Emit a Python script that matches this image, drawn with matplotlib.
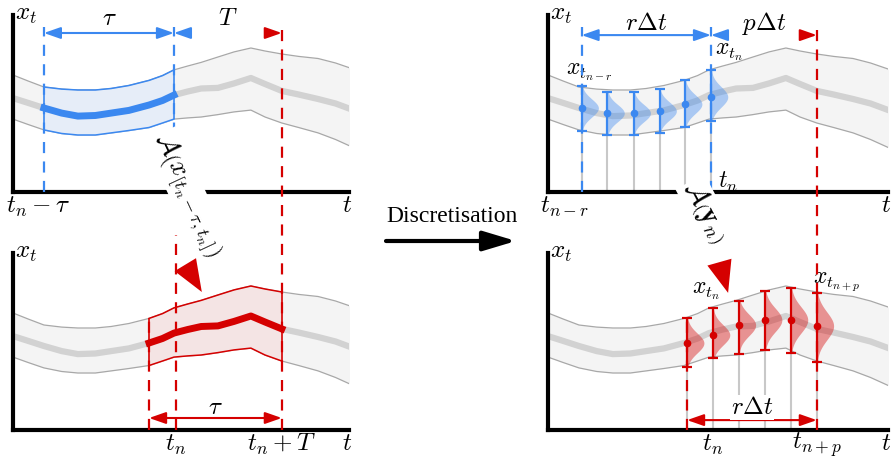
import numpy as np
import matplotlib.pyplot as plt

plt.rcParams['mathtext.fontset'] = 'cm'
plt.rcParams['lines.scale_dashes'] = False

# the underlying signal (t in time units, x in arbitrary units)
t = [0, 0.45, 0.92, 1.45, 1.93, 2.45, 2.92, 3.45, 4.05, 4.45, 4.79, 5.2, 5.6, 6.1, 6.58, 7.08, 7.5, 8.0, 8.5, 9.08, 9.6, 10.25]
mean = [3.13, 2.97, 2.8, 2.63, 2.53, 2.55, 2.63, 2.72, 2.9, 3.05, 3.23, 3.35, 3.45, 3.47, 3.62, 3.8, 3.6, 3.37, 3.25, 3.1, 2.95, 2.68]
upper = [3.9, 3.7, 3.5, 3.43, 3.4, 3.4, 3.45, 3.55, 3.72, 3.88, 4.07, 4.2, 4.32, 4.5, 4.67, 4.8, 4.7, 4.6, 4.52, 4.45, 4.3, 4.05]
lower = [2.43, 2.25, 2.07, 1.95, 1.9, 1.9, 1.97, 2.05, 2.15, 2.3, 2.43, 2.47, 2.5, 2.58, 2.67, 2.73, 2.5, 2.3, 2.15, 1.97, 1.75, 1.42]

# continuous windows
hist_start, hist_end = 0.92, 4.79
pred_start, t_now, pred_end = 4.05, 4.85, 8.0

# discretised samples
obs_t = [1.0, 1.77, 2.55, 3.32, 4.08, 4.85]
obs_mid = [2.8, 2.63, 2.63, 2.7, 2.93, 3.17]
obs_top = [3.53, 3.33, 3.33, 3.43, 3.73, 4.07]
obs_bot = [2.03, 1.9, 1.9, 1.97, 2.17, 2.37]

fc_t = [4.14, 4.91, 5.68, 6.46, 7.23, 8.0]
fc_mid = [2.9, 3.17, 3.5, 3.67, 3.67, 3.47]
fc_top = [3.73, 4.07, 4.3, 4.63, 4.73, 4.57]
fc_bot = [2.1, 2.4, 2.53, 2.67, 2.57, 2.27]

BLUE = '#3b88f0'
RED = '#d50000'
W, H = 893, 458
PX = 33.6   # pixels per time unit
PY = 30.0   # pixels per x unit
DASH = (8, 6)
FS = 18

fig = plt.figure(figsize=(W / 100, H / 100), dpi=100)


def make_ax(x0, yaxis, w):
    ax = fig.add_axes([x0 / W, (H - yaxis) / H, w / W, 177 / H])
    ax.set_xlim(0, w / PX)
    ax.set_ylim(0, 177 / PY)
    for s in ['top', 'right']:
        ax.spines[s].set_visible(False)
    for s in ['left', 'bottom']:
        ax.spines[s].set_linewidth(3)
    ax.set_xticks([])
    ax.set_yticks([])
    ax.patch.set_alpha(0)
    ax.text(0.05, 5.92, '$x_t$', fontsize=FS, ha='left', va='center')
    ax.text(w / PX - 0.06, -0.45, '$t$', fontsize=FS, ha='center', va='center')
    draw_band(ax)
    return ax


def draw_band(ax):
    ax.fill_between(t, lower, upper, color='#f4f4f4', lw=0, zorder=1)
    ax.plot(t, upper, color='#a8a8a8', lw=0.9, zorder=1.5)
    ax.plot(t, lower, color='#a8a8a8', lw=0.9, zorder=1.5)
    ax.plot(t, mean, color='#d2d2d2', lw=4.5, zorder=2)


def draw_window(ax, t0, t1, color, fill):
    idx = [i for i, v in enumerate(t) if t0 <= v <= t1]
    tt = [t[i] for i in idx]
    lo = [lower[i] for i in idx]
    hi = [upper[i] for i in idx]
    mu = [mean[i] for i in idx]
    ax.fill_between(tt, lo, hi, color=fill, lw=0, zorder=2.2)
    ax.plot(tt, hi, color=color, lw=1.1, zorder=3)
    ax.plot(tt, lo, color=color, lw=1.1, zorder=3)
    ax.plot(tt, mu, color=color, lw=5, zorder=3)
    ax.vlines([tt[0], tt[-1]], [lo[0], lo[-1]], [hi[0], hi[-1]], color=color, lw=1.2, zorder=3)


def dline(ax, x, y0, y1, color):
    ax.plot([x, x], [y0, y1], color=color, lw=1.6, dashes=DASH, clip_on=False, zorder=4)


def arrow(ax, xy, xytext, color, style, lw=1.5):
    ax.annotate('', xy=xy, xytext=xytext,
                arrowprops=dict(arrowstyle=style, color=color, lw=lw, mutation_scale=10,
                                shrinkA=0, shrinkB=0),
                annotation_clip=False, zorder=6)


def samples(ax, ts, mid, top, bot, color):
    ax.vlines(ts, 0, bot, color='#c8c8c8', lw=1.5, zorder=2.5)
    for ti, m, lo, hi in zip(ts, mid, top, bot):
        yy = np.linspace(hi, lo, 60)
        s = (lo - hi) / 5
        ax.fill_betweenx(yy, ti, ti + 0.5 * np.exp(-0.5 * ((yy - m) / s) ** 2),
                         color=color, alpha=0.4, lw=0, zorder=3)
    err = [np.subtract(mid, bot), np.subtract(top, mid)]
    ax.errorbar(ts, mid, yerr=err, fmt='o', color=color, ms=4.5, lw=1.6,
                capsize=3.5, capthick=1.6, zorder=5)


HEAD = '-|>,head_length=1.0,head_width=0.35'
DHEAD = '<|-|>,head_length=1.0,head_width=0.35'
BIG = '-|>,head_length=2.3,head_width=0.9'

# ---- top left: continuous history
ax1 = make_ax(13, 192, 336)
draw_window(ax1, hist_start, hist_end, BLUE, '#e6edf8')
dline(ax1, hist_start, 0, 5.5, BLUE)
dline(ax1, hist_end, 0, 5.5, BLUE)
arrow(ax1, (hist_end, 5.3), (hist_start, 5.3), BLUE, DHEAD)
ax1.text((hist_start + hist_end) / 2, 5.8, r'$\tau$', fontsize=FS, ha='center', va='center')
arrow(ax1, (hist_end, 5.3), (hist_end + 0.43, 5.3), BLUE, HEAD)
arrow(ax1, (pred_end, 5.3), (pred_end - 0.4, 5.3), RED, HEAD)
ax1.text(6.4, 5.8, '$T$', fontsize=FS, ha='center', va='center')
ax1.text(0.75, -0.48, r'$t_n-\tau$', fontsize=FS, ha='center', va='center')

# ---- bottom left: continuous forecast
ax2 = make_ax(13, 430, 336)
draw_window(ax2, pred_start, pred_end, RED, '#f4e4e4')
dline(ax2, pred_start, 0, 3.72, RED)
dline(ax2, t_now, 0, 6.5, RED)
dline(ax2, pred_end, 0, 13.4, RED)
arrow(ax2, (pred_end, 0.4), (pred_start, 0.4), RED, DHEAD)
ax2.text((pred_start + pred_end) / 2, 0.78, r'$\tau$', fontsize=FS, ha='center', va='center')
ax2.text(t_now, -0.48, '$t_n$', fontsize=FS, ha='center', va='center')
ax2.text(pred_end, -0.48, '$t_n+T$', fontsize=FS, ha='center', va='center')
arrow(ax2, (5.62, 4.6), (5.0, 5.75), RED, BIG, lw=0)

# ---- top right: discretised history
ax3 = make_ax(548, 192, 340)
samples(ax3, obs_t, obs_mid, obs_top, obs_bot, BLUE)
dline(ax3, obs_t[0], 0, 5.5, BLUE)
dline(ax3, obs_t[-1], 0, 5.5, BLUE)
arrow(ax3, (obs_t[-1], 5.23), (obs_t[0], 5.23), BLUE, DHEAD)
ax3.text((obs_t[0] + obs_t[-1]) / 2, 5.62, r'$r\Delta t$', fontsize=FS, ha='center', va='center')
arrow(ax3, (obs_t[-1], 5.23), (obs_t[-1] + 0.42, 5.23), BLUE, HEAD)
arrow(ax3, (pred_end, 5.23), (pred_end - 0.42, 5.23), RED, HEAD)
ax3.text(6.45, 5.62, r'$p\Delta t$', fontsize=FS, ha='center', va='center')
ax3.text(1.22, 4.05, r'$x_{t_{n-r}}$', fontsize=17, ha='center', va='center')
ax3.text(5.4, 4.7, r'$x_{t_n}$', fontsize=17, ha='center', va='center')
ax3.text(5.35, 0.33, r'$t_n$', fontsize=17, ha='center', va='center')
ax3.text(0.5, -0.48, r'$t_{n-r}$', fontsize=FS, ha='center', va='center')

# ---- bottom right: discretised forecast
ax4 = make_ax(548, 430, 340)
samples(ax4, fc_t, fc_mid, fc_top, fc_bot, RED)
dline(ax4, fc_t[0], 0, fc_top[0], RED)
dline(ax4, fc_t[-1], 0, 13.4, RED)
arrow(ax4, (fc_t[-1], 0.33), (fc_t[0], 0.33), RED, DHEAD)
ax4.text((fc_t[0] + fc_t[-1]) / 2, 0.75, r'$r\Delta t$', fontsize=FS, ha='center', va='center',
         bbox=dict(fc='white', ec='none', pad=0.5), zorder=6)
ax4.text(4.7, 4.65, r'$x_{t_n}$', fontsize=17, ha='center', va='center')
ax4.text(8.6, 4.93, r'$x_{t_{n+p}}$', fontsize=17, ha='center', va='center')
ax4.text(fc_t[1], -0.48, '$t_n$', fontsize=FS, ha='center', va='center')
ax4.text(fc_t[-1], -0.48, '$t_{n+p}$', fontsize=FS, ha='center', va='center')
arrow(ax4, (5.36, 4.57), (5.05, 5.8), RED, BIG, lw=0)

# ---- middle arrow and rotated operator labels
fig.text(452 / W, 1 - 216 / H, 'Discretisation', fontsize=17, family='Liberation Serif',
         ha='center', va='center')
ax1.annotate('', xy=(516 / W, 1 - 241 / H), xytext=(386 / W, 1 - 241 / H),
             xycoords='figure fraction', textcoords='figure fraction',
             arrowprops=dict(arrowstyle='-|>,head_length=2.0,head_width=0.6', color='black',
                             lw=3, mutation_scale=10, shrinkA=0, shrinkB=0),
             annotation_clip=False)
fig.text(188 / W, 1 - 195 / H, r'$\mathcal{A}\left(x_{[t_n-\tau,t_n]}\right)$', fontsize=19,
         rotation=-65, rotation_mode='anchor', ha='center', va='center',
         bbox=dict(fc='white', ec='none', pad=1))
fig.text(706 / W, 1 - 212 / H, r'$\mathcal{A}\left(\mathbf{y}_n\right)$', fontsize=20,
         rotation=-62, rotation_mode='anchor', ha='center', va='center',
         bbox=dict(fc='white', ec='none', pad=1))

fig.savefig('out.png', dpi=100)
